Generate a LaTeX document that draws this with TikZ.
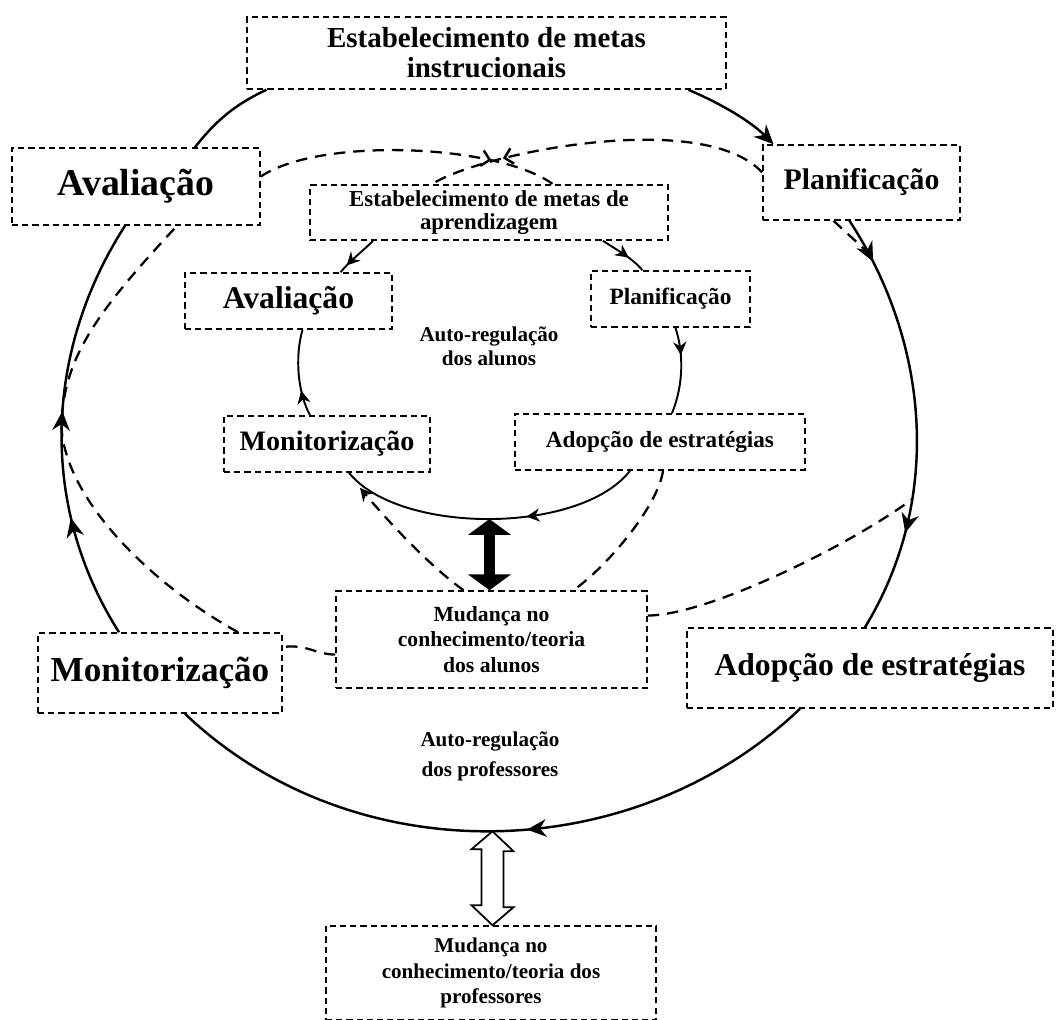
\documentclass[tikz,border=0pt]{standalone}
\usepackage{fontspec}
\setmainfont{Liberation Serif}
\usetikzlibrary{arrows.meta,calc,decorations.markings}

\begin{document}
\begin{tikzpicture}[x=0.02cm, y=-0.02cm,
  box/.style={draw, line width=0.9pt, dash pattern=on 3.5pt off 2.3pt, align=center, inner sep=1pt},
  ring/.style={line width=1.4pt},
  inring/.style={line width=1.1pt},
  dashlink/.style={line width=1.3pt, dash pattern=on 6.5pt off 4.5pt},
  flow/.style={postaction={decorate, decoration={markings, mark=at position #1 with {\arrow{Stealth[length=11pt,width=10pt]}}}}},
  iflow/.style={postaction={decorate, decoration={markings, mark=at position #1 with {\arrow{Stealth[length=7.5pt,width=7.5pt]}}}}},
  meet/.style={postaction={decorate, decoration={markings, mark=at position #1 with {\arrow{Straight Barb[length=4.5pt,width=9pt,line width=1.4pt]}}}}}]
\useasboundingbox (0,0) rectangle (1056,1019);

\node[box, minimum width=9.58cm, minimum height=1.44cm, font=\fontsize{16.5}{17}\selectfont\bfseries] (goal) at (486.5,53) {Estabelecimento de metas\\instrucionais};
\node[box, minimum width=4.96cm, minimum height=1.54cm, font=\fontsize{21.5}{24}\selectfont\bfseries] (oaval) at (136,186.5) {Avaliação};
\node[box, minimum width=3.94cm, minimum height=1.5cm, font=\fontsize{17}{20}\selectfont\bfseries] (oplan) at (861.5,182.5) {Planificação};
\node[box, minimum width=4.88cm, minimum height=1.6cm, font=\fontsize{20}{23}\selectfont\bfseries] (omonit) at (160,673) {Monitorização};
\node[box, minimum width=7.32cm, minimum height=1.6cm, font=\fontsize{18}{22}\selectfont\bfseries] (oadop) at (870,668) {Adopção de estratégias};

\node[box, minimum width=7.16cm, minimum height=1.1cm, font=\fontsize{13}{13}\selectfont\bfseries] (iestab) at (489,212.5) {Estabelecimento de metas de\\aprendizagem};
\node[box, minimum width=4.14cm, minimum height=1.12cm, font=\fontsize{18}{20}\selectfont\bfseries] (iaval) at (288.5,301) {Avaliação};
\node[box, minimum width=3.18cm, minimum height=1.12cm, font=\fontsize{13.3}{16}\selectfont\bfseries] (iplan) at (670.5,299) {Planificação};
\node[box, minimum width=4.12cm, minimum height=1.12cm, font=\fontsize{16}{19}\selectfont\bfseries] (imonit) at (327,444) {Monitorização};
\node[box, minimum width=5.8cm, minimum height=1.12cm, font=\fontsize{13.2}{16}\selectfont\bfseries] (iadop) at (660,442) {Adopção de estratégias};

\node[box, minimum width=6.22cm, minimum height=1.94cm, font=\fontsize{12.3}{14.7}\selectfont\bfseries] (malunos) at (491.5,639.5) {Mudança no\\conhecimento/teoria\\dos alunos};
\node[box, minimum width=6.6cm, minimum height=1.88cm, font=\fontsize{12}{14.5}\selectfont\bfseries] (mprof) at (491,973) {Mudança no\\conhecimento/teoria dos\\professores};
\node[align=center, font=\fontsize{12}{13.6}\selectfont\bfseries] (alunos) at (489,346) {Auto-regulação\\dos alunos};
\node[align=center, font=\fontsize{12}{17}\selectfont\bfseries] (profs) at (490,756) {Auto-regulação\\dos professores};

\draw[ring, -{Stealth[length=11pt,width=10pt]}] ($(goal.south)+(202,0)$) .. controls +(35,15) and +(-22,-22) .. ($(oplan.north)+(-88,0)$);
\draw[ring, flow=.11, flow=.76] ($(oplan.south)+(-12,0)$) .. controls +(81,124) and +(77,-126) .. ($(oadop.north)+(-5,0)$) coordinate[pos=.085] (bjoin) coordinate[pos=.68] (fjoin);
\draw[ring, flow=.45] ($(oadop.south)+(-70,0)$) .. controls +(-168,160) and +(168,160) .. ($(omonit.south)+(25,0)$) coordinate[pos=.5] (obot);
\draw[ring, flow=.29, flow=.54] ($(omonit.north)+(-41,0)$) .. controls +(-80,-126) and +(-81,126) .. ($(oaval.south)+(-11,0)$) coordinate[pos=.5] (dmid);
\draw[ring] ($(oaval.north)+(59,0)$) .. controls +(22,-28) and +(-30,14) .. ($(goal.south)+(-220,0)$);

\draw[inring, iflow=.8] ($(iestab.south)+(-116,0)$) .. controls +(-12,12) and +(10,-12) .. ($(iaval.north)+(52,0)$);
\draw[inring, iflow=.62] ($(iestab.south)+(114,0)$) .. controls +(15,10) and +(-10,-12) .. ($(iplan.north)+(-28,0)$);
\draw[inring, iflow=.32] ($(iplan.south)+(5,0)$) .. controls +(8,25) and +(12,-30) .. ($(iadop.north)+(12,0)$);
\draw[inring, iflow=.38] ($(iadop.south)+(-30,0)$) .. controls +(-50,64) and +(50,62) .. ($(imonit.south)+(22,0)$) coordinate[pos=.5] (ibot);
\draw[inring, iflow=.3] ($(imonit.north)+(-17,0)$) .. controls +(-12,-22) and +(-8,28) .. ($(iaval.south)+(14,0)$);

\draw[dashlink, meet=.78] ($(oaval.east)+(0,-10)$) .. controls +(60,-40) and +(-55,-40) .. ($(iestab.north)+(64,0)$);
\draw[dashlink, meet=.78] ($(oplan.west)+(0,-10)$) .. controls +(-60,-65) and +(45,-30) .. ($(iestab.north)+(-57,0)$);
\draw[dashlink] ($(omonit.north)+(78,0)$) .. controls +(-90,-50) and +(5,70) .. (dmid) .. controls +(0,-70) and +(-80,86) .. ($(oaval.south)+(41,0)$);
\draw[dashlink, -{Stealth[length=7.5pt,width=7.5pt]}] ($(malunos.north)+(-28,0)$) .. controls +(-35,-25) and +(25,30) .. ($(imonit.south)+(33,15)$);
\draw[dashlink] ($(iadop.south)+(3,0)$) .. controls +(-5,35) and +(35,-25) .. ($(malunos.north)+(82,0)$);
\draw[dashlink] ($(malunos.east)+(0,-24)$) .. controls +(60,0) and +(-60,45) .. (fjoin);
\draw[dashlink] ($(malunos.west)+(0,15)$) .. controls +(-20,0) and +(25,-3) .. ($(omonit.east)+(0,-26)$);
\draw[dashlink] ($(oplan.south)+(-28,0)$) -- (bjoin);

\draw[line width=6pt, {Triangle[width=24pt,length=9pt]}-{Triangle[width=24pt,length=9pt]}] (ibot) -- (ibot |- malunos.north);
\draw[line width=1pt, fill=white] (obot) -- ++(21,20) -- ++(-10,0) -- ++(0,56) -- ++(10,0) -- (obot |- mprof.north) -- ++(-21,-20) -- ++(10,0) -- ++(0,-56) -- ++(-10,0) -- cycle;
\end{tikzpicture}
\end{document}
